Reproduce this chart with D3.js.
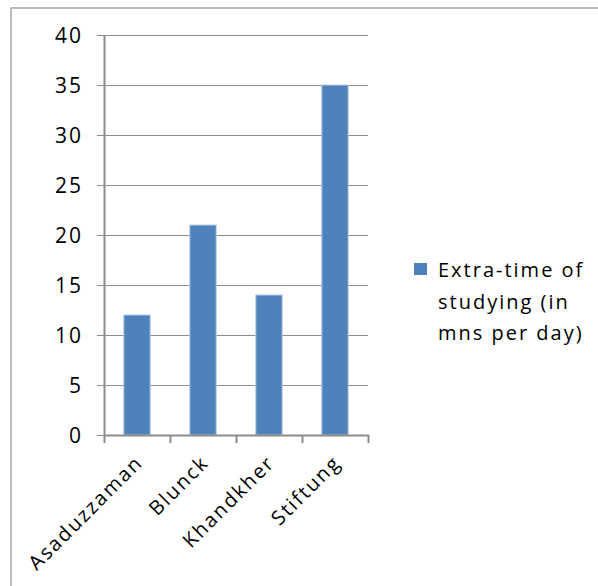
<!DOCTYPE html>
<html>
<head>
<meta charset="utf-8">
<script src="https://cdn.jsdelivr.net/npm/d3@7"></script>
<style>
  html, body { margin: 0; padding: 0; background: #fff; }
  svg { display: block; }
  text { font-family: "Open Sans", "Noto Sans", sans-serif; fill: #000; }
</style>
</head>
<body>
<svg id="chart" width="598" height="586"></svg>
<script>
// Extra study time per author (minutes per day)
const categories = ["Asaduzzaman", "Blunck", "Khandkher", "Stiftung"];
const values = [12, 21, 14, 35];
const yTicks = [0, 5, 10, 15, 20, 25, 30, 35, 40];
const legendLines = ["Extra-time of", "studying (in", "mns per day)"];

const svg = d3.select("#chart");
const W = 598, H = 586;

// outer chart frame
svg.append("rect")
  .attr("x", 11).attr("y", 8)
  .attr("width", W).attr("height", H)
  .attr("fill", "none")
  .attr("stroke", "#a6a6a6")
  .attr("stroke-width", 1.5);

const plot = { left: 104, right: 368, top: 35, bottom: 435 };

const x = d3.scaleBand()
  .domain(categories)
  .range([plot.left, plot.right])
  .paddingInner(0.6)
  .paddingOuter(0.3);

const y = d3.scaleLinear()
  .domain([0, 40])
  .range([plot.bottom, plot.top]);

// horizontal gridlines with left tick stubs
svg.append("g").selectAll("line")
  .data(yTicks)
  .join("line")
  .attr("x1", plot.left - 7)
  .attr("x2", plot.right)
  .attr("y1", d => Math.round(y(d)) + 0.5)
  .attr("y2", d => Math.round(y(d)) + 0.5)
  .attr("stroke", "#8c8c8c")
  .attr("stroke-width", 1.2);

// bars
svg.append("g").selectAll("rect")
  .data(values)
  .join("rect")
  .attr("x", (d, i) => x(categories[i]))
  .attr("y", d => y(d))
  .attr("width", x.bandwidth())
  .attr("height", d => plot.bottom - y(d))
  .attr("fill", "#4f81bd")
  .attr("stroke", "#b9cde5")
  .attr("stroke-width", 1);

// value axis line
svg.append("line")
  .attr("x1", plot.left + 0.5).attr("x2", plot.left + 0.5)
  .attr("y1", plot.top).attr("y2", plot.bottom + 1)
  .attr("stroke", "#8c8c8c").attr("stroke-width", 2);

// category axis line and ticks
const xAxis = svg.append("g");
xAxis.append("line")
  .attr("x1", plot.left).attr("x2", plot.right + 1)
  .attr("y1", plot.bottom + 0.5).attr("y2", plot.bottom + 0.5)
  .attr("stroke", "#8c8c8c").attr("stroke-width", 2);
const boundaries = d3.range(categories.length + 1)
  .map(i => plot.left + i * (plot.right - plot.left) / categories.length);
xAxis.selectAll("line.tick")
  .data(boundaries)
  .join("line")
  .attr("class", "tick")
  .attr("x1", d => Math.round(d) + 0.5).attr("x2", d => Math.round(d) + 0.5)
  .attr("y1", plot.bottom).attr("y2", plot.bottom + 8)
  .attr("stroke", "#8c8c8c").attr("stroke-width", 2);

// y tick labels
svg.append("g").selectAll("text")
  .data(yTicks)
  .join("text")
  .attr("x", 83)
  .attr("y", d => y(d))
  .attr("dy", "0.36em")
  .attr("text-anchor", "end")
  .attr("font-size", 21)
  .attr("letter-spacing", 2)
  .text(d => d);

// rotated category labels
svg.append("g").selectAll("text")
  .data(categories)
  .join("text")
  .attr("transform", d => `translate(${x(d) + x.bandwidth() / 2 + 7},${plot.bottom + 29}) rotate(-45)`)
  .attr("text-anchor", "end")
  .attr("font-size", 20)
  .attr("letter-spacing", 2)
  .text(d => d);

// legend
const legend = svg.append("g");
legend.append("rect")
  .attr("x", 414).attr("y", 263)
  .attr("width", 13).attr("height", 12)
  .attr("fill", "#4f81bd");
legend.selectAll("text")
  .data(legendLines)
  .join("text")
  .attr("x", 438)
  .attr("y", (d, i) => 277 + i * 31.5)
  .attr("font-size", 20)
  .attr("letter-spacing", 2)
  .text(d => d);
</script>
</body>
</html>
